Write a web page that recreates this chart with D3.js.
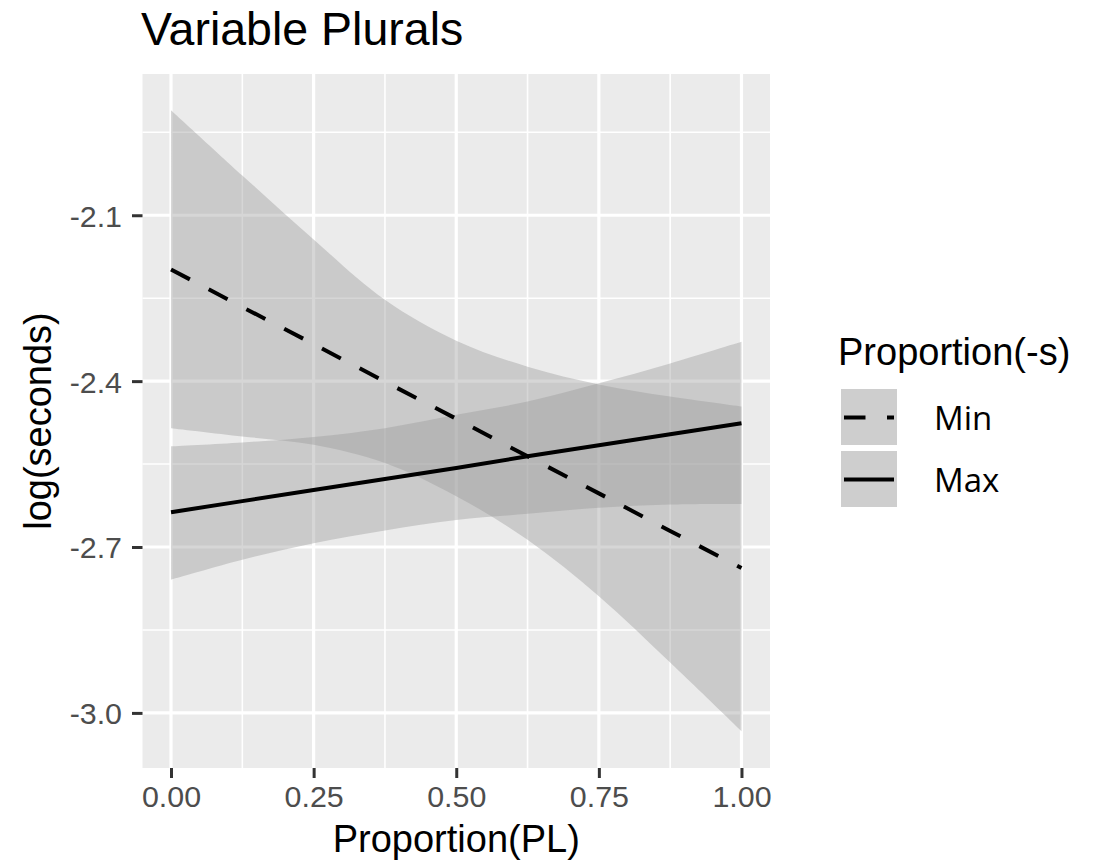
<!DOCTYPE html>
<html><head><meta charset="utf-8">
<script src="https://cdn.jsdelivr.net/npm/d3@7"></script>
<style>body{margin:0;background:#fff}svg{display:block}</style>
</head><body>
<svg id="c" width="1104" height="862"></svg>
<script>
const xs = [0, 0.125, 0.25, 0.375, 0.5, 0.625, 0.75, 0.875, 1];
const minFit   = [-2.198, -2.266, -2.333, -2.401, -2.468, -2.536, -2.603, -2.671, -2.738];
const minUpper = [-1.910, -2.028, -2.144, -2.253, -2.327, -2.374, -2.406, -2.428, -2.446];
const minLower = [-2.485, -2.500, -2.515, -2.548, -2.608, -2.687, -2.789, -2.909, -3.033];
const maxFit   = [-2.637, -2.617, -2.597, -2.577, -2.557, -2.536, -2.516, -2.496, -2.476];
const maxUpper = [-2.518, -2.511, -2.501, -2.485, -2.461, -2.437, -2.404, -2.368, -2.329];
const maxLower = [-2.759, -2.723, -2.693, -2.670, -2.651, -2.640, -2.629, -2.623, -2.622];
const xTicks = [0, 0.25, 0.5, 0.75, 1];
const xMinor = [0.125, 0.375, 0.625, 0.875];
const yTicks = [-2.1, -2.4, -2.7, -3.0];
const yMinor = [-1.95, -2.25, -2.55, -2.85];
const seriesNames = ["Min", "Max"];

const svg = d3.select("#c");
const P = {l: 142.5, r: 770, t: 74, b: 768};
const x = d3.scaleLinear().domain([-0.05, 1.05]).range([P.l, P.r]);
const yDataMin = -3.0426, yDataMax = -1.9016, yr = yDataMax - yDataMin;
const y = d3.scaleLinear().domain([yDataMin - 0.05*yr, yDataMax + 0.05*yr]).range([P.b, P.t]);

svg.append("rect").attr("x", P.l).attr("y", P.t).attr("width", P.r - P.l).attr("height", P.b - P.t).attr("fill", "#EBEBEB");
const g = svg.append("g");
xMinor.forEach(v => g.append("line").attr("x1", x(v)).attr("x2", x(v)).attr("y1", P.t).attr("y2", P.b).attr("stroke", "#fff").attr("stroke-width", 1.6));
yMinor.forEach(v => g.append("line").attr("y1", y(v)).attr("y2", y(v)).attr("x1", P.l).attr("x2", P.r).attr("stroke", "#fff").attr("stroke-width", 1.6));
xTicks.forEach(v => g.append("line").attr("x1", x(v)).attr("x2", x(v)).attr("y1", P.t).attr("y2", P.b).attr("stroke", "#fff").attr("stroke-width", 3.2));
yTicks.forEach(v => g.append("line").attr("y1", y(v)).attr("y2", y(v)).attr("x1", P.l).attr("x2", P.r).attr("stroke", "#fff").attr("stroke-width", 3.2));

const area = (up, lo) => d3.area().x((d, i) => x(xs[i])).y0((d, i) => y(lo[i])).y1((d, i) => y(up[i])).curve(d3.curveCatmullRom)(xs);
const line = (f) => d3.line().x((d, i) => x(xs[i])).y((d, i) => y(f[i]))(xs);

svg.append("path").attr("d", area(minUpper, minLower)).attr("fill", "#999999").attr("fill-opacity", 0.4);
svg.append("path").attr("d", area(maxUpper, maxLower)).attr("fill", "#999999").attr("fill-opacity", 0.4);
svg.append("path").attr("d", line(minFit)).attr("fill", "none").attr("stroke", "#000").attr("stroke-width", 4).attr("stroke-dasharray", "21.3,21.3");
svg.append("path").attr("d", line(maxFit)).attr("fill", "none").attr("stroke", "#000").attr("stroke-width", 4);

// axes
const font = "'Liberation Sans', Arial, Helvetica, sans-serif";
const xAxis = svg.append("g").attr("transform", `translate(0,${P.b})`).call(d3.axisBottom(x).tickValues(xTicks).tickFormat(d3.format(".2f")).tickSize(10).tickPadding(6));
xAxis.select(".domain").remove();
xAxis.selectAll(".tick line").attr("stroke", "#333").attr("stroke-width", 3);
xAxis.selectAll(".tick text").attr("fill", "#4D4D4D").attr("font-family", font).attr("font-size", 30.4).attr("dy", null).attr("y", 39);
const yAxis = svg.append("g").attr("transform", `translate(${P.l},0)`).call(d3.axisLeft(y).tickValues(yTicks).tickFormat(d3.format(".1f")).tickSize(10.5).tickPadding(10));
yAxis.select(".domain").remove();
yAxis.selectAll(".tick line").attr("stroke", "#333").attr("stroke-width", 3);
yAxis.selectAll(".tick text").attr("fill", "#4D4D4D").attr("font-family", font).attr("font-size", 30.4).attr("dy", "0.36em").text(d => d3.format(".1f")(d).replace("−", "-"));
xAxis.selectAll(".tick text").text(d => d3.format(".2f")(d));

svg.append("text").attr("x", (P.l + P.r) / 2).attr("y", 852).attr("text-anchor", "middle").attr("font-family", font).attr("font-size", 38).attr("fill", "#000").text("Proportion(PL)");
svg.append("text").attr("transform", `translate(51,${(P.t + P.b) / 2}) rotate(-90)`).attr("text-anchor", "middle").attr("font-family", font).attr("font-size", 38).attr("fill", "#000").text("log(seconds)");
svg.append("text").attr("x", 141).attr("y", 45).attr("font-family", font).attr("font-size", 46.5).attr("fill", "#000").text("Variable Plurals");

// legend
svg.append("text").attr("x", 838).attr("y", 365).attr("font-family", font).attr("font-size", 38).attr("fill", "#000").text("Proportion(-s)");
const keyY = [389, 451];
seriesNames.forEach((name, i) => {
  const ky = keyY[i];
  svg.append("rect").attr("x", 841).attr("y", ky).attr("width", 56).attr("height", 56).attr("fill", "#F2F2F2");
  svg.append("rect").attr("x", 841).attr("y", ky).attr("width", 56).attr("height", 56).attr("fill", "#999999").attr("fill-opacity", 0.4);
  const l = svg.append("line").attr("x1", 844).attr("x2", 894).attr("y1", ky + 28.5).attr("y2", ky + 28.5).attr("stroke", "#000").attr("stroke-width", 4);
  if (i === 0) l.attr("stroke-dasharray", "21.5,21.5");
  svg.append("text").attr("x", 934).attr("y", ky + 41).attr("font-family", "'Open Sans', sans-serif").attr("font-size", 33).attr("fill", "#000").text(name);
});
</script>
</body></html>
